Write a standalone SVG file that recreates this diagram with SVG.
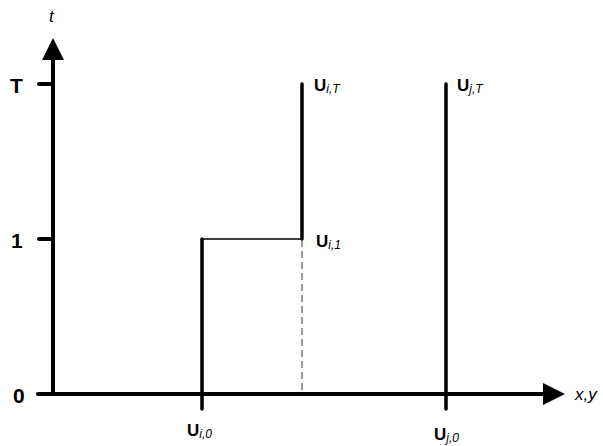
<svg xmlns="http://www.w3.org/2000/svg" width="603" height="446" viewBox="0 0 603 446">
<style>
.ax{stroke:#000;stroke-width:4;fill:none;stroke-linecap:round}
.thick{stroke:#000;stroke-width:3.5;fill:none;stroke-linecap:round}
.thin{stroke:#000;stroke-width:1.5;fill:none}
.dash{stroke:#333;stroke-width:1;fill:none;stroke-dasharray:7 4}
.num{font-family:"Liberation Sans",Arial,sans-serif;font-weight:bold;font-size:21px;fill:#000}
.ital{font-family:"Liberation Sans",Arial,sans-serif;font-style:italic;font-size:17px;fill:#000}
.U{font-family:"Liberation Sans",Arial,sans-serif;font-weight:bold;font-size:17px;fill:#000}
.sub{font-weight:normal;font-style:italic;font-size:12px}
</style>
<g id="axes">
<line class="ax" x1="53" y1="394" x2="53" y2="58"/>
<polygon points="42,60 53,38 64,60" fill="#000"/>
<line class="ax" x1="53" y1="394" x2="545" y2="394"/>
<polygon points="543,383 565,394 543,405" fill="#000"/>
<line class="ax" x1="39" y1="84" x2="53" y2="84"/>
<line class="ax" x1="39" y1="239" x2="53" y2="239"/>
<line class="ax" x1="38" y1="394" x2="53" y2="394"/>
<text class="num" x="10" y="93">T</text>
<text class="num" x="11" y="248">1</text>
<text class="num" x="13" y="403">0</text>
<text class="ital" x="49" y="22">t</text>
<text class="ital" x="575" y="400">x,y</text>
</g>
<g id="connectors">
<line class="thick" x1="202" y1="239" x2="202" y2="409"/>
<line class="thin" x1="202" y1="239" x2="302" y2="239"/>
<line class="thick" x1="302" y1="84" x2="302" y2="239"/>
<line class="dash" x1="302" y1="240" x2="302" y2="394"/>
<line class="thick" x1="446" y1="84" x2="446" y2="409"/>
</g>
<g id="Ui0"><text class="U" x="187" y="436">U<tspan class="sub" dy="2">i,0</tspan></text></g>
<g id="Uj0"><text class="U" x="434" y="440">U<tspan class="sub" dy="2">j,0</tspan></text></g>
<g id="UiT"><text class="U" x="314" y="91">U<tspan class="sub" dy="2">i,T</tspan></text></g>
<g id="Ui1"><text class="U" x="316" y="247">U<tspan class="sub" dy="2">i,1</tspan></text></g>
<g id="UjT"><text class="U" x="457" y="91">U<tspan class="sub" dy="2">j,T</tspan></text></g>
</svg>
